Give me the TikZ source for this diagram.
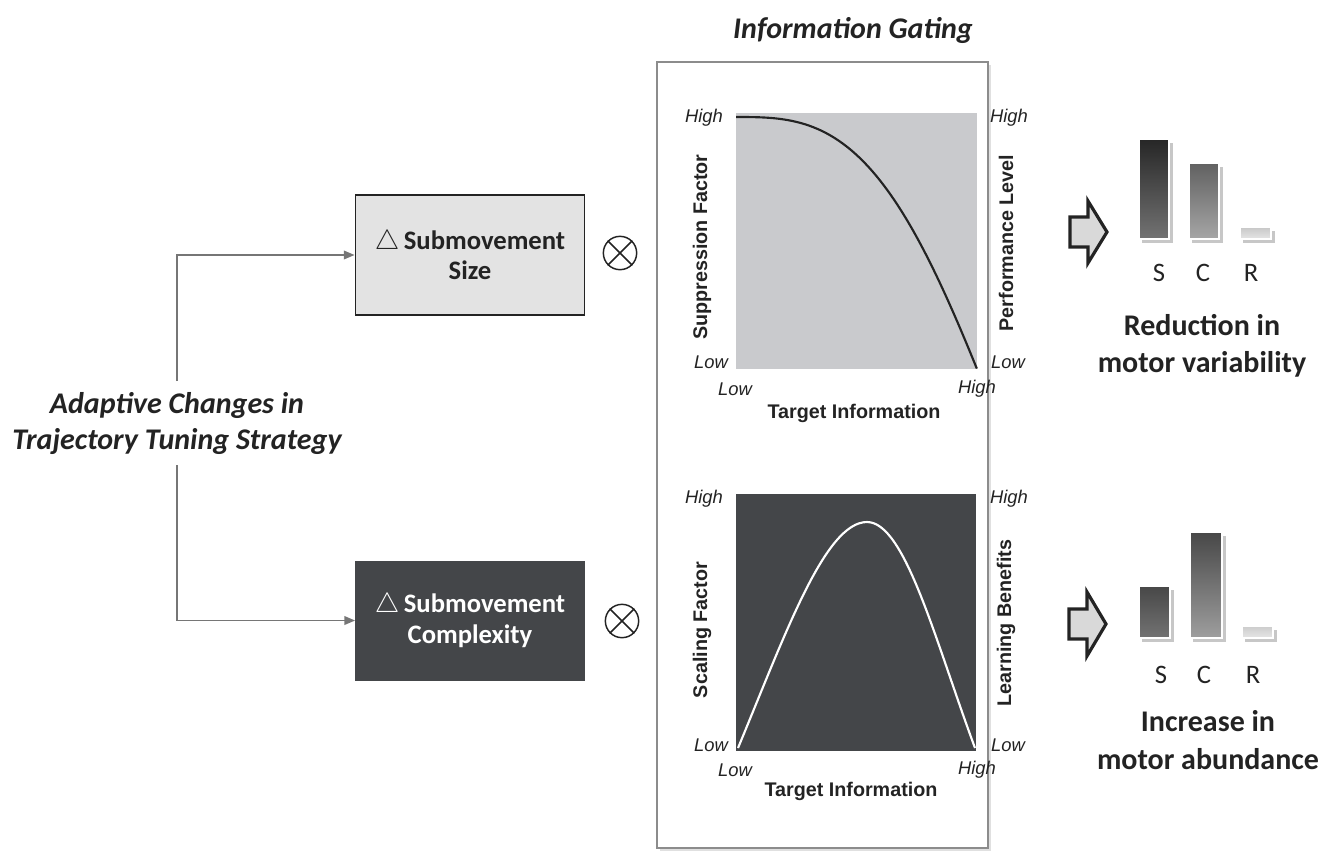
\documentclass[tikz,border=0pt]{standalone}
\usepackage{fontspec}
\setmainfont{Carlito}
\newfontfamily\chartfont{Liberation Sans}
\usetikzlibrary{positioning, arrows.meta, calc}
\definecolor{panelgray}{RGB}{140,140,140}
\definecolor{lightbox}{RGB}{227,227,227}
\definecolor{darkbox}{RGB}{68,70,73}
\definecolor{plotgray}{RGB}{201,202,205}
\definecolor{linkgray}{RGB}{118,118,118}
\definecolor{ink}{RGB}{35,35,35}
\tikzset{
  inbox/.style={
    minimum width=172pt, minimum height=90pt, align=center,
    font=\fontsize{20}{23}\selectfont\bfseries
  },
  link/.style={draw=linkgray, line width=1.1pt, -{Triangle[length=8pt,width=6.5pt]}},
  mult/.style={circle, draw=ink, line width=1.1pt, minimum size=25pt, inner sep=0pt},
  heading/.style={font=\fontsize{22.5}{27}\selectfont\bfseries\itshape, text=ink, align=center},
  outcome/.style={font=\fontsize{22.5}{28}\selectfont\bfseries, text=ink, align=center},
  lvl/.style={font=\chartfont\fontsize{13.8}{15}\selectfont\itshape, text=ink},
  axis/.style={font=\chartfont\fontsize{14.8}{16}\selectfont\bfseries, text=ink},
  barlbl/.style={font=\fontsize{20}{22}\selectfont, text=ink},
  bar/.style={draw=white, line width=1pt},
  barshadow/.style={fill=black!22, draw=none},
  fatarrow/.style={fill=black!15, draw=ink, line width=2.4pt, line join=miter},
}

\begin{document}
\begin{tikzpicture}[x=0.75pt, y=-0.75pt]
  \useasboundingbox (0,0) rectangle (1332,851);

  % strategy and its two components
  \node[heading, inner ysep=8pt] (adapt) at (177,423)
    {Adaptive Changes in\\Trajectory Tuning Strategy};
  \node[inbox, fill=lightbox, draw=ink, line width=1.2pt, text=ink] (size) at (470,255)
    {$\triangle$\,Submovement\\Size};
  \node[inbox, fill=darkbox, text=white] (cplx) at (470,620.5)
    {$\triangle$\,Submovement\\Complexity};
  \draw[link] (adapt.north) |- (size.west);
  \draw[link] (adapt.south) |- (cplx.west);

  \node[mult] (mulA) at (620,253) {};
  \node[mult] (mulB) at (622,621) {};
  \foreach \m in {mulA, mulB} {
    \draw[ink, line width=1.1pt] (\m.north west) -- (\m.south east);
    \draw[ink, line width=1.1pt] (\m.north east) -- (\m.south west);
  }

  % gating panel
  \node[heading] (gating) at (853,30) {Information Gating};
  \fill[black!12] (660,65) rectangle (991,851);
  \draw[panelgray, line width=1.1pt, fill=white] (657,62) rectangle (988,848);

  % upper chart: suppression
  \fill[plotgray] (736,113) rectangle (977,369);
  \draw[ink, line width=1.6pt] plot[domain=0:1, samples=60, smooth]
    ({736+241*\x}, {369-252*cos(90*\x*sqrt(\x))});
  \node[lvl] at (704,118) {High};
  \node[lvl] at (711,362) {Low};
  \node[lvl] at (1009,118) {High};
  \node[lvl] at (1008,362) {Low};
  \node[lvl] at (735,389) {Low};
  \node[lvl] at (977,389) {High};
  \node[axis] at (854,413) {Target Information};
  \node[axis, rotate=90] at (702,247) {Suppression Factor};
  \node[axis, rotate=90] at (1006,243) {Performance Level};

  % lower chart: scaling
  \fill[darkbox] (736,494) rectangle (976,751);
  \draw[white, line width=1.6pt] (738,748) .. controls (785,635) and (825,522) .. (867,522)
    .. controls (905,522) and (935,640) .. (975,748);
  \node[lvl] at (704,499) {High};
  \node[lvl] at (711,745) {Low};
  \node[lvl] at (1009,499) {High};
  \node[lvl] at (1008,745) {Low};
  \node[lvl] at (735,770) {Low};
  \node[lvl] at (977,770) {High};
  \node[axis] at (851,791) {Target Information};
  \node[axis, rotate=90] at (702,630) {Scaling Factor};
  \node[axis, rotate=90] at (1006,623) {Learning Benefits};

  % outcome arrows
  \draw[fatarrow] (1070,217) -- (1088,217) -- (1088,201) -- (1107,232)
    -- (1088,263) -- (1088,247) -- (1070,247) -- cycle;
  \draw[fatarrow] (1069,609) -- (1087,609) -- (1087,592) -- (1106,624)
    -- (1087,656) -- (1087,639) -- (1069,639) -- cycle;

  % variability bars
  \fill[barshadow] (1142,143) rectangle (1173,243);
  \fill[barshadow] (1192,167) rectangle (1223,243);
  \fill[barshadow] (1243,231) rectangle (1275,243);
  \draw[bar, top color=black!85, bottom color=black!55] (1139,139) rectangle (1169,239);
  \draw[bar, top color=black!62, bottom color=black!35] (1189,163) rectangle (1219,239);
  \draw[bar, top color=black!22, bottom color=black!10] (1240,227) rectangle (1271,239);
  \node[barlbl] at (1159,273) {S};
  \node[barlbl] at (1203,273) {C};
  \node[barlbl] at (1251,273) {R};
  \node[outcome] at (1202,346) {Reduction in\\motor variability};

  % abundance bars
  \fill[barshadow] (1142,590) rectangle (1174,642);
  \fill[barshadow] (1193,536) rectangle (1226,642);
  \fill[barshadow] (1245,630) rectangle (1277,642);
  \draw[bar, top color=black!72, bottom color=black!55] (1139,586) rectangle (1170,638);
  \draw[bar, top color=black!72, bottom color=black!38] (1190,532) rectangle (1222,638);
  \draw[bar, top color=black!20, bottom color=black!10] (1242,626) rectangle (1273,638);
  \node[barlbl] at (1161,675) {S};
  \node[barlbl] at (1204,675) {C};
  \node[barlbl] at (1253,675) {R};
  \node[outcome] at (1208,740) {Increase in\\motor abundance};
\end{tikzpicture}
\end{document}
